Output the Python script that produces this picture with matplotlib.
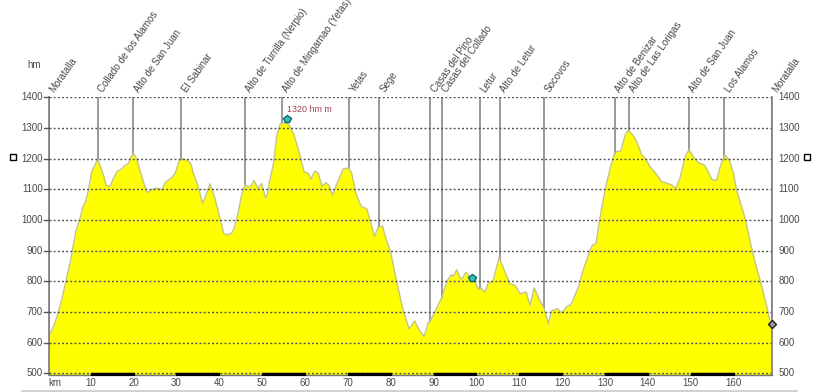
import numpy as np
import matplotlib
matplotlib.use('Agg')
import matplotlib.pyplot as plt
from matplotlib.lines import Line2D
from matplotlib.patches import Rectangle

plt.rcParams['font.family'] = ['Liberation Sans', 'DejaVu Sans']

km = [0.3,1.3,2.1,3.2,4.2,5.4,6.5,7.5,8.3,8.8,9.5,10.2,11,11.6,12.2,13,13.6,14.5,15.3,16.2,17.1,18,18.8,19.4,20,20.7,21.5,22.3,23.2,24.2,25.4,26.6,27.5,28.7,29.7,30.6,31.4,32.4,33.3,34.1,35.1,36.1,36.9,37.8,38.9,40,41,41.7,42.9,43.4,44.2,45.2,46,46.8,47.5,48.1,49.1,49.9,50.8,51.2,51.8,52.6,53.4,54.2,55.3,56.3,57.3,58.4,59.8,60.8,61.4,62.3,63.1,64,64.9,65.6,66.4,67.5,68.9,70.2,70.9,72,73.2,74.4,75.2,76.2,77.1,78.1,79,80,81.1,82.9,84.3,85.6,86.7,87.8,88.8,89.2,90.3,91.9,92.7,93.2,94.2,94.6,95.4,96.3,96.9,97.6,98.1,99.7,100.4,101.2,102,102.8,103.8,105.3,106.7,107.8,109,110.2,111.6,112.5,113.5,114.4,115.8,116.8,117.5,118.9,119.9,121,122.2,123.8,124.9,126.5,127.1,127.9,128.8,130,131.2,132.1,132.6,133.7,134.7,135.4,136.5,137.4,138.6,139.3,140.5,142,143.2,144.2,145.6,146.5,147.5,148.7,149.6,150.6,151.8,153.2,154.1,154.9,156,157,158,159,160,160.7,162.7,163.8,165,166.2,167.7,168.9]
hm = [624,651,683,737,798,874,961,1004,1048,1059,1097,1157,1178,1198,1178,1146,1113,1110,1135,1159,1165,1178,1184,1205,1218,1200,1162,1124,1089,1099,1104,1099,1124,1135,1151,1192,1200,1195,1186,1146,1108,1055,1080,1118,1075,1015,957,951,957,970,1010,1081,1114,1108,1112,1129,1103,1119,1072,1081,1130,1179,1272,1313,1318,1310,1283,1233,1157,1152,1133,1160,1152,1110,1122,1113,1081,1119,1166,1170,1152,1081,1043,1037,999,947,977,980,934,895,819,705,645,671,640,621,667,670,700,747,782,803,822,816,838,807,814,830,820,798,776,776,765,796,798,877,830,792,787,760,765,722,779,749,711,662,703,711,697,716,727,782,836,901,918,923,1005,1097,1168,1212,1223,1225,1277,1293,1277,1255,1212,1203,1174,1149,1125,1121,1114,1103,1136,1206,1230,1206,1187,1179,1157,1133,1128,1179,1212,1195,1152,1097,1005,934,863,803,721,645]

place_names = ['Moratalla','Collado de los Alamos','Alto de San Juan','El Sabinar','Alto de Turrilla (Nerpio)','Alto de Mingarnao (Yetas)','Yetas','Sege','Casas del Pino','Casas del Collado','Letur','Alto de Letur','Socovos','Alto de Benizar','Alto de Las Lorigas','Alto de San Juan','Los Alamos','Moratalla']
place_km = [0.3,11.7,19.9,31.1,46,54.6,70.3,77.3,89.2,91.9,100.8,105.5,115.7,132.3,135.6,149.6,157.8,168.9]
y_ticks = [500,600,700,800,900,1000,1100,1200,1300,1400]
x_ticks = [10,20,30,40,50,60,70,80,90,100,110,120,130,140,150,160]
bar_starts = [10,30,50,70,90,110,130,150]
peak_km, peak_hm = 55.8, 1328
water_km, water_hm = 99.0, 810
end_km, end_hm = 168.9, 660

W, H = 816, 392
fig = plt.figure(figsize=(W/100, H/100), dpi=100, facecolor='white')
ax = fig.add_axes([49/W, 1-375/H, (771.7-49)/W, (375-97.3)/H])
ax.set_xlim(0.28, 168.9)
ax.set_ylim(494.6, 1400)
for s in ax.spines.values():
    s.set_visible(False)
ax.patch.set_alpha(0)

grey = '#7d7d7d'
ax.vlines(place_km, 500, 1400, color=grey, lw=1.1, zorder=1)
ax.fill_between(km, 494.6, hm, color='#ffff00', lw=0, zorder=2)
ax.plot(km, hm, color='#c4c484', lw=1.0, zorder=3)
ax.hlines(y_ticks, 0.28, 168.9, color='#505050', lw=1.0, linestyles=(0, (1.4, 1.6)), zorder=4)
ax.plot([0.28, 0.28], [494.6, 1400], color=grey, lw=1.2, zorder=5, clip_on=False)
ax.plot([168.9, 168.9], [494.6, 1400], color=grey, lw=1.2, zorder=5, clip_on=False)
ax.plot([0.28, 168.9], [496, 496], color='#8a8a50', lw=1.0, zorder=5)
ax.plot([0.28, 168.9], [494.6, 494.6], color='#777777', lw=1.0, zorder=5, clip_on=False)
for b in bar_starts:
    ax.broken_barh([(b, 10)], (494.6, 5.4), color='black', zorder=6)

ax.set_xticks([])
ax.set_yticks([])
txt = '#484848'
fs = 7.0
for y in y_ticks:
    ax.plot([-0.9, 0.28], [y, y], color='#555555', lw=1, clip_on=False, zorder=5)
    ax.annotate(str(y), (0.28, y), xytext=(-6, 0), textcoords='offset pixels', ha='right', va='center', fontsize=fs, color=txt)
    ax.annotate(str(y), (168.9, y), xytext=(7, 0), textcoords='offset pixels', ha='left', va='center', fontsize=fs, color=txt)
for x in x_ticks:
    ax.annotate(str(x), (x, 494.6), xytext=(0, -8), textcoords='offset pixels', ha='center', va='center', fontsize=fs, color=txt)
ax.annotate('km', (0.28, 494.6), xytext=(-1, -8), textcoords='offset pixels', ha='left', va='center', fontsize=fs, color=txt)
ax.annotate('hm', (0.28, 1400), xytext=(-22, 32), textcoords='offset pixels', ha='left', va='center', fontsize=fs, color=txt)
for name, x in zip(place_names, place_km):
    ax.annotate(name, (x, 1400), xytext=(3, 6), textcoords='offset pixels', rotation=55,
                rotation_mode='anchor', ha='left', va='center', fontsize=fs, color=txt, annotation_clip=False)
ax.annotate('1320 hm m', (peak_km, peak_hm), xytext=(0, 5), textcoords='offset pixels', ha='left', va='bottom', fontsize=6.4, color='#a04050')
ax.plot([peak_km, water_km], [peak_hm, water_hm], ls='none', marker='p', ms=6, mfc='#35c0b8', mec='#0c6a68', mew=1, zorder=8)
ax.plot([end_km], [end_hm], ls='none', marker='D', ms=4.5, mfc='#999999', mec='#222222', mew=1, zorder=8, clip_on=False)

for x0 in (10, 804):
    fig.add_artist(Rectangle((x0/W, 1-159.5/H), 6/W, 6/H, transform=fig.transFigure, fc='white', ec='black', lw=1))
fig.add_artist(Line2D([22/W, 797/W], [1-391/H, 1-391/H], color='#c8c8c8', lw=1.2))

fig.savefig('out.png', dpi=100)
